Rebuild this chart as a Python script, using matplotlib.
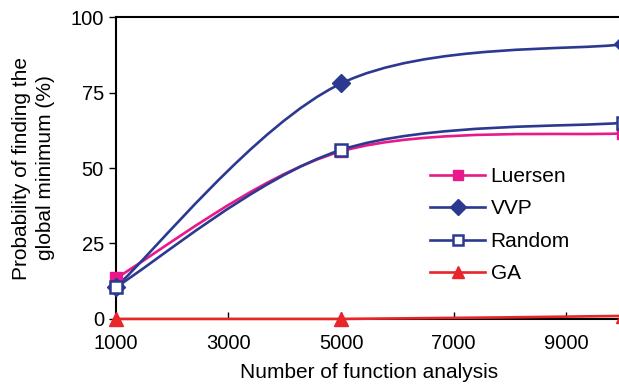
import numpy as np
import matplotlib.pyplot as plt
from matplotlib.path import Path
from matplotlib.patches import PathPatch
from matplotlib.lines import Line2D

plt.rcParams["font.family"] = ["Liberation Sans", "DejaVu Sans"]

# ------------------------------------------------------------
# data
# ------------------------------------------------------------
n_eval = [1000, 5000, 10000]
luersen = [13.5, 55.5, 61.5]
vvp = [10.5, 78.0, 91.0]
random_s = [10.5, 56.0, 65.0]
ga = [0.0, 0.0, 1.0]

x_ticks = [1000, 3000, 5000, 7000, 9000]
y_ticks = [0, 25, 50, 75, 100]


def smooth_path(x, y):
    """Excel-like smoothed line: cubic Bezier through the points."""
    p = np.column_stack([x, y]).astype(float)
    n = len(p)
    verts = [p[0]]
    codes = [Path.MOVETO]
    for i in range(n - 1):
        p_prev = p[i - 1] if i > 0 else p[i]
        p_next = p[i + 2] if i + 2 < n else p[i + 1]
        c1 = p[i] + (p[i + 1] - p_prev) / 6.0
        c2 = p[i + 1] - (p_next - p[i]) / 6.0
        # keep flat stretches flat (no overshoot below zero)
        c1[1] = max(c1[1], min(p[i][1], p[i + 1][1]))
        c2[1] = max(c2[1], min(p[i][1], p[i + 1][1]))
        verts += [c1, c2, p[i + 1]]
        codes += [Path.CURVE4] * 3
    return Path(verts, codes)


series = [
    ("Luersen", luersen, "#E8198B", dict(marker="s", ms=9, mfc="#E8198B")),
    ("VVP", vvp, "#2B3990", dict(marker="D", ms=9, mfc="#2B3990")),
    ("Random", random_s, "#2B3990", dict(marker="s", ms=9, mfc="white", mew=1.8)),
    ("GA", ga, "#E8262A", dict(marker="^", ms=10, mfc="#E8262A")),
]

fig = plt.figure(figsize=(6.19, 3.88), dpi=100)
ax = fig.add_axes([0.187, 0.178, 0.819, 0.778])

handles = []
for name, vals, col, mk in series:
    patch = PathPatch(smooth_path(n_eval, vals), fc="none", ec=col, lw=1.9,
                      zorder=3, clip_on=False)
    ax.add_patch(patch)
    ax.plot(n_eval, vals, ls="none", color=col, mec=col, zorder=4,
            clip_on=False, **mk)
    handles.append(Line2D([], [], color=col, lw=1.9, mec=col, **mk))

ax.set_xlim(1000, 10000)
ax.set_ylim(0, 100)
ax.set_xticks(x_ticks)
ax.set_yticks(y_ticks)
ax.tick_params(axis="x", direction="in", length=5, width=1, labelsize=14.5, pad=11)
ax.tick_params(axis="y", direction="out", length=5, width=1, labelsize=14.5)
for s in ["left", "bottom", "top"]:
    ax.spines[s].set_linewidth(1.5)
ax.spines["right"].set_visible(False)

ax.set_xlabel("Number of function analysis", fontsize=15, labelpad=7)
ax.set_ylabel("Probability of finding the\nglobal minimum (%)", fontsize=15,
              labelpad=11, linespacing=1.35)

ax.legend(handles, [s[0] for s in series], loc="upper left",
          bbox_to_anchor=(0.695, 0.57), bbox_transform=fig.transFigure,
          frameon=False, fontsize=15, handlelength=2.65, handletextpad=0.25,
          labelspacing=0.65, borderpad=0, borderaxespad=0, markerscale=0.85)

fig.savefig("out.png", dpi=100)
